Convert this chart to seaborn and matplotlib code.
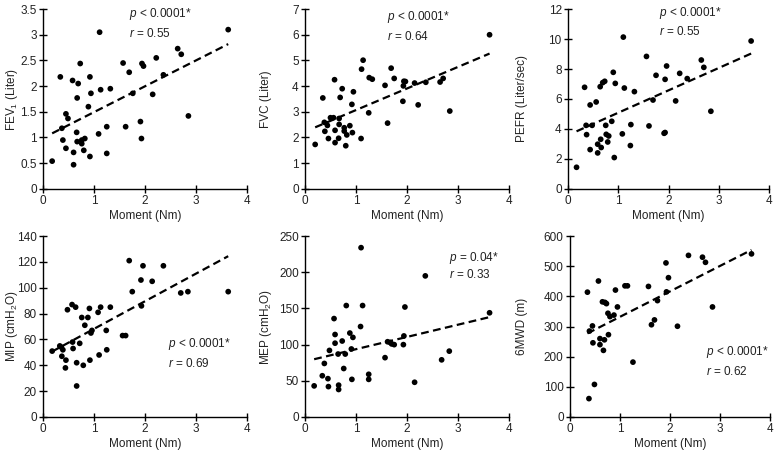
import numpy as np
import seaborn as sns
import matplotlib.pyplot as plt
from matplotlib.ticker import FuncFormatter
from matplotlib.transforms import blended_transform_factory

# values
fev_x = [0.18, 0.34, 0.37, 0.39, 0.45, 0.45, 0.49, 0.58, 0.60, 0.60, 0.67, 0.66, 0.67, 0.69, 0.73,
         0.76, 0.76, 0.80, 0.82, 0.89, 0.92, 0.92, 0.94, 1.09, 1.11, 1.13, 1.25, 1.25, 1.32, 1.57,
         1.62, 1.69, 1.76, 1.91, 1.93, 1.94, 1.97, 2.15, 2.22, 2.36, 2.64, 2.71, 2.85, 3.63]
fev_y = [0.54, 2.18, 1.18, 0.95, 1.46, 0.79, 1.37, 2.11, 0.71, 0.47, 1.77, 1.10, 0.92, 2.05, 2.44,
         0.88, 0.95, 0.75, 0.98, 1.60, 2.18, 0.63, 1.86, 1.07, 3.05, 1.93, 1.21, 0.69, 1.95, 2.45,
         1.21, 2.27, 1.86, 1.31, 0.98, 2.44, 2.39, 1.84, 2.55, 2.22, 2.73, 2.62, 1.42, 3.10]

fvc_x = [0.20, 0.35, 0.38, 0.39, 0.44, 0.46, 0.50, 0.56, 0.58, 0.59, 0.59, 0.67, 0.67, 0.66, 0.69,
         0.73, 0.77, 0.77, 0.80, 0.82, 0.88, 0.92, 0.93, 0.95, 1.10, 1.11, 1.14, 1.25, 1.26, 1.32,
         1.57, 1.62, 1.69, 1.75, 1.92, 1.93, 1.94, 1.97, 2.15, 2.22, 2.37, 2.65, 2.71, 2.84, 3.62]
fvc_y = [1.73, 3.54, 2.59, 2.24, 2.47, 1.96, 2.77, 2.77, 4.25, 2.28, 1.80, 2.74, 2.51, 1.97, 3.56,
         3.90, 2.38, 2.25, 1.68, 2.10, 2.46, 3.29, 2.19, 3.78, 1.96, 4.66, 5.01, 2.96, 4.33, 4.27,
         4.03, 2.56, 4.70, 4.30, 3.41, 4.01, 4.19, 4.18, 4.12, 3.27, 4.15, 4.16, 4.30, 3.03, 6.00]

pefr_x = [0.17, 0.33, 0.36, 0.37, 0.44, 0.44, 0.48, 0.56, 0.59, 0.59, 0.64, 0.65, 0.66, 0.69, 0.73,
          0.75, 0.76, 0.79, 0.81, 0.87, 0.90, 0.92, 0.94, 1.08, 1.10, 1.12, 1.24, 1.25, 1.32, 1.56,
          1.61, 1.69, 1.75, 1.91, 1.93, 1.93, 1.96, 2.14, 2.22, 2.37, 2.65, 2.70, 2.84, 3.64]
pefr_y = [1.44, 6.78, 4.24, 3.62, 2.62, 5.60, 4.24, 5.80, 2.98, 2.40, 6.82, 3.31, 2.76, 7.09, 7.18,
          4.24, 3.64, 3.13, 3.53, 4.51, 7.78, 2.09, 7.04, 3.67, 10.13, 6.73, 2.89, 4.29, 6.49, 8.84,
          4.20, 5.93, 7.58, 3.71, 3.76, 7.31, 8.20, 5.87, 7.71, 7.36, 8.60, 8.11, 5.18, 9.87]

mip_x = [0.18, 0.33, 0.36, 0.37, 0.39, 0.44, 0.45, 0.48, 0.57, 0.58, 0.59, 0.64, 0.66, 0.66, 0.72,
         0.76, 0.79, 0.82, 0.88, 0.91, 0.92, 0.94, 0.96, 1.08, 1.10, 1.13, 1.24, 1.25, 1.32, 1.56,
         1.62, 1.69, 1.75, 1.92, 1.93, 1.96, 2.14, 2.36, 2.70, 2.84, 3.63]
mip_y = [51, 55, 54, 47, 52, 38, 44, 83, 87, 58, 53, 85, 42, 24, 57,
         77, 40, 71, 77, 84, 44, 65, 67, 81, 48, 85, 67, 52, 85, 63,
         63, 121, 97, 106, 86, 117, 105, 117, 96, 97, 97]

mep_x = [0.18, 0.34, 0.38, 0.45, 0.46, 0.48, 0.57, 0.59, 0.59, 0.65, 0.66, 0.66, 0.73, 0.76, 0.79,
         0.81, 0.88, 0.91, 0.92, 0.94, 1.09, 1.10, 1.13, 1.25, 1.25, 1.57, 1.62, 1.67, 1.70, 1.75,
         1.93, 1.94, 1.96, 2.15, 2.36, 2.68, 2.83, 3.62]
mep_y = [43, 57, 74, 53, 42, 92, 136, 114, 102, 87, 44, 38, 105, 67, 87,
         154, 116, 94, 52, 110, 125, 234, 154, 59, 52, 82, 104, 103, 101, 100,
         100, 112, 152, 48, 195, 79, 91, 144]

mwd_x = [0.35, 0.39, 0.38, 0.45, 0.46, 0.49, 0.57, 0.60, 0.60, 0.65, 0.67, 0.69, 0.70, 0.73, 0.76,
         0.77, 0.80, 0.88, 0.91, 0.95, 1.10, 1.15, 1.26, 1.57, 1.63, 1.69, 1.75, 1.92, 1.93, 1.97,
         2.15, 2.37, 2.65, 2.71, 2.85, 3.63]
mwd_y = [414, 285, 61, 302, 246, 108, 451, 260, 240, 382, 221, 256, 380, 376, 344,
         273, 333, 338, 421, 365, 435, 435, 182, 433, 306, 322, 386, 511, 415, 462,
         301, 536, 530, 513, 365, 541]

ylabels = ['FEV$_1$ (Liter)', 'FVC (Liter)', 'PEFR (Liter/sec)',
           'MIP (cmH$_2$O)', 'MEP (cmH$_2$O)', '6MWD (m)']
ymax = [3.5, 7, 12, 140, 250, 600]
ystep = [0.5, 1, 2, 20, 50, 100]
p_text = ['< 0.0001*', '< 0.0001*', '< 0.0001*', '< 0.0001*', '= 0.04*', '< 0.0001*']
r_text = ['0.55', '0.64', '0.55', '0.69', '0.33', '0.62']
# where the p / r text sits (data coords)
txt_pos = [(1.69, 3.41, 3.03), (1.61, 6.70, 5.94), (1.81, 11.71, 10.49),
           (2.45, 56.8, 41.3), (2.83, 220, 197), (2.72, 214, 150)]

xs = [fev_x, fvc_x, pefr_x, mip_x, mep_x, mwd_x]
ys = [fev_y, fvc_y, pefr_y, mip_y, mep_y, mwd_y]

sns.set_style('white')
plt.rcParams['font.family'] = ['Liberation Sans', 'DejaVu Sans']
plt.rcParams['mathtext.fontset'] = 'custom'
plt.rcParams['mathtext.rm'] = 'Liberation Sans'
plt.rcParams['mathtext.it'] = 'Liberation Sans:italic'
plt.rcParams['font.size'] = 8.5

fig = plt.figure(figsize=(7.77, 4.54), dpi=100)
lefts = [[0.0553, 0.3925, 0.731], [0.0553, 0.3925, 0.7335]]
rights = [[0.318, 0.655, 0.990], [0.318, 0.655, 0.991]]
rows = [(0.584, 0.980), (0.0815, 0.480)]
label_x = [0.016, 0.342, 0.672]  # y-label centres, figure fraction

for i in range(6):
    r, c = divmod(i, 3)
    l, rr = lefts[r][c], rights[r][c]
    b, t = rows[r]
    ax = fig.add_axes([l, b, rr - l, t - b])
    sns.regplot(x=np.array(xs[i]), y=np.array(ys[i]), ax=ax, ci=None, truncate=True,
                scatter_kws=dict(s=17, color='black', edgecolor='none', alpha=1),
                line_kws=dict(color='black', lw=1.6, ls=(0, (3.5, 2))))
    ax.set_xlim(0, 4)
    ax.set_ylim(0, ymax[i])
    ax.set_xticks([0, 1, 2, 3, 4])
    ax.set_yticks(np.arange(0, ymax[i] + ystep[i] / 2, ystep[i]))
    ax.yaxis.set_major_formatter(FuncFormatter(lambda v, _: f'{v:g}'))
    ax.set_xlabel('Moment (Nm)', fontsize=8.5, color='#222222', labelpad=2)
    ax.set_ylabel(ylabels[i], fontsize=8.5, color='#222222', va='center')
    ax.yaxis.set_label_coords(label_x[c], 0.5,
                              transform=blended_transform_factory(fig.transFigure, ax.transAxes))
    ax.tick_params(bottom=True, left=True, direction='inout', length=6, width=1.0,
                   labelsize=8.5, colors='black', labelcolor='#222222', pad=1.5)
    sns.despine(ax=ax)
    for s in ['left', 'bottom']:
        ax.spines[s].set_color('black')
        ax.spines[s].set_linewidth(1.0)
    tx, py, ry = txt_pos[i]
    ax.text(tx, py, '$p$ ' + p_text[i], fontsize=8.5, va='center', color='#222222')
    ax.text(tx, ry, '$r$ = ' + r_text[i], fontsize=8.5, va='center', color='#222222')

fig.savefig('out.png', dpi=100)
